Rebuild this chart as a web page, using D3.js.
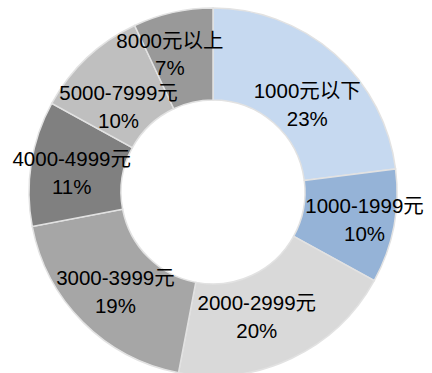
<!DOCTYPE html>
<html>
<head>
<meta charset="utf-8">
<script src="https://cdn.jsdelivr.net/npm/d3@7"></script>
<style>
  body { margin: 0; background: #fff; }
  svg text { font-family: "Liberation Sans", "Noto Sans CJK SC", sans-serif; font-size: 20.5px; fill: #000; }
</style>
</head>
<body>
<svg id="chart"></svg>
<script>
// price bands and their shares (%)
var categories = ["1000元以下", "1000-1999元", "2000-2999元", "3000-3999元", "4000-4999元", "5000-7999元", "8000元以上"];
var shares = [23, 10, 20, 19, 11, 10, 7];
var colors = ["#c6d9f0", "#95b3d7", "#d9d9d9", "#a6a6a6", "#808080", "#bfbfbf", "#999999"];

// small label nudges, Excel moved a few of them off the ring centre
var labelNudge = [[3, 16], [16, 2], [-15, 0], [0, 2], [-5, 2], [0, 15], [-13, -3]];

var width = 432,
  height = 373,
  cx = 213,
  cy = 192,
  outerR = 184,
  innerR = 92;

var svg = d3.select("#chart").attr("width", width).attr("height", height);

var g = svg.append("g").attr("transform", "translate(" + cx + "," + cy + ")");

var rows = categories.map(function(c, i) {
  return { name: c, value: shares[i], color: colors[i], nudge: labelNudge[i] };
});

var pie = d3
  .pie()
  .sort(null)
  .value(function(d) {
    return d.value;
  });

var arc = d3.arc().innerRadius(innerR).outerRadius(outerR);

var arcs = pie(rows);

// slices first, labels on top of all of them
g
  .append("g")
  .attr("class", "slices")
  .selectAll("path")
  .data(arcs)
  .enter()
  .append("path")
  .attr("d", arc)
  .attr("fill", function(d) {
    return d.data.color;
  })
  .attr("stroke", "#e2e2e2")
  .attr("stroke-width", 1.5);

var lineGap = 28;

var labels = g
  .append("g")
  .attr("class", "labels")
  .selectAll("text")
  .data(arcs)
  .enter()
  .append("text")
  .attr("text-anchor", "middle")
  .attr("transform", function(d) {
    var c = arc.centroid(d);
    return "translate(" + (c[0] + d.data.nudge[0]) + "," + (c[1] + d.data.nudge[1]) + ")";
  });

labels
  .append("tspan")
  .attr("x", 0)
  .attr("y", -lineGap / 2)
  .attr("dy", "0.35em")
  .text(function(d) {
    return d.data.name;
  });

labels
  .append("tspan")
  .attr("x", 0)
  .attr("y", lineGap / 2)
  .attr("dy", "0.35em")
  .text(function(d) {
    return d.data.value + "%";
  });
</script>
</body>
</html>
